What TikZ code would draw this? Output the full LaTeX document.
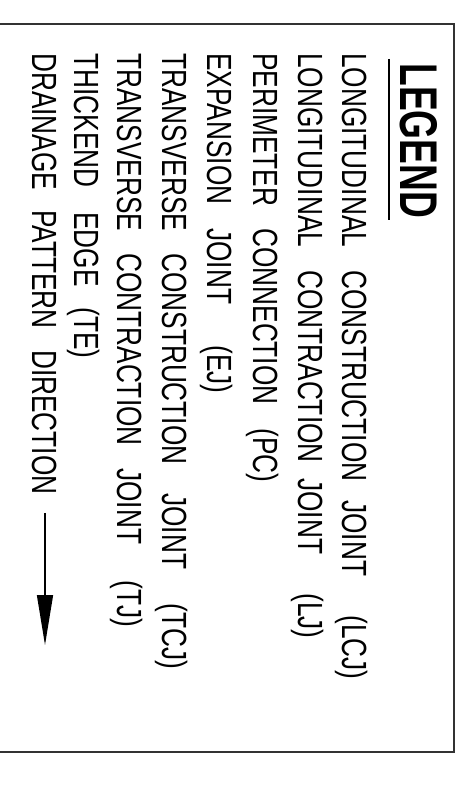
\documentclass[tikz,border=0pt]{standalone}
\usepackage{fontspec}
\newfontfamily\cadfont[FakeStretch=0.75]{Liberation Sans}
\newfontfamily\cadtitle[FakeStretch=0.7]{Liberation Sans}
\usepackage{tikz}
\usetikzlibrary{arrows.meta,calc}
\tikzset{>=latex}
\tikzset{
  word/.style={rotate=-90,anchor=base west,inner sep=0pt,
    font=\cadfont\fontsize{19.9}{24}\selectfont},
  title/.style={rotate=-90,anchor=base west,inner sep=0pt,
    font=\cadtitle\bfseries\fontsize{30.2}{36}\selectfont},
  frame/.style={line width=1.1pt,color=black!80}
}

\begin{document}
\begin{tikzpicture}[x=0.02cm,y=0.02cm]
    \useasboundingbox (0,0) rectangle (466,785);
    %frame
    \draw[frame] (0,761) -- (454,761) -- (454,33) -- (0,33);
    %title
    \node[title] (legend) at (400,722) {LEGEND};
    \draw[line width=0.8pt] ($(legend.base west)+(-11,4)$) -- ($(legend.base east)+(-11,-2)$);
    % longitudinal construction joint
    \node[word] (lcj1) at (342,732) {LONGITUDINAL};
    \node[word] (lcj2) at (342,515) {CONSTRUCTION};
    \node[word] (lcj3) at (342,285) {JOINT};
    \node[word] (lcj4) at (342,170) {(LCJ)};
    % longitudinal contraction joint
    \node[word] (lj1) at (298,732) {LONGITUDINAL};
    \node[word] (lj2) at (298,515) {CONTRACTION};
    \node[word] (lj3) at (298,307) {JOINT};
    \node[word] (lj4) at (298,192) {(LJ)};
    % perimeter connection
    \node[word] (pc1) at (253,732) {PERIMETER};
    \node[word] (pc2) at (253,557) {CONNECTION};
    \node[word] (pc3) at (253,357) {(PC)};
    % expansion joint
    \node[word] (ej1) at (207,732) {EXPANSION};
    \node[word] (ej2) at (207,557) {JOINT};
    \node[word] (ej3) at (207,440) {(EJ)};
    % transverse construction joint
    \node[word] (tcj1) at (162,732) {TRANSVERSE};
    \node[word] (tcj2) at (162,532) {CONSTRUCTION};
    \node[word] (tcj3) at (162,292) {JOINT};
    \node[word] (tcj4) at (162,182) {(TCJ)};
    % transverse contraction joint
    \node[word] (tj1) at (118,732) {TRANSVERSE};
    \node[word] (tj2) at (118,532) {CONTRACTION};
    \node[word] (tj3) at (118,317) {JOINT};
    \node[word] (tj4) at (118,205) {(TJ)};
    % thickend edge
    \node[word] (te1) at (75,732) {THICKEND};
    \node[word] (te2) at (75,573) {EDGE};
    \node[word] (te3) at (75,478) {(TE)};
    % drainage
    \node[word] (dr1) at (33,732) {DRAINAGE};
    \node[word] (dr2) at (33,575) {PATTERN};
    \node[word] (dr3) at (33,435) {DIRECTION};
    \coordinate (flowtop) at (45,272);
    \coordinate (flowtip) at (45,140);
    \draw[line width=0.8pt,-{Triangle[length=1cm,width=0.32cm]}] (flowtop) -- (flowtip);
\end{tikzpicture}
\end{document}
